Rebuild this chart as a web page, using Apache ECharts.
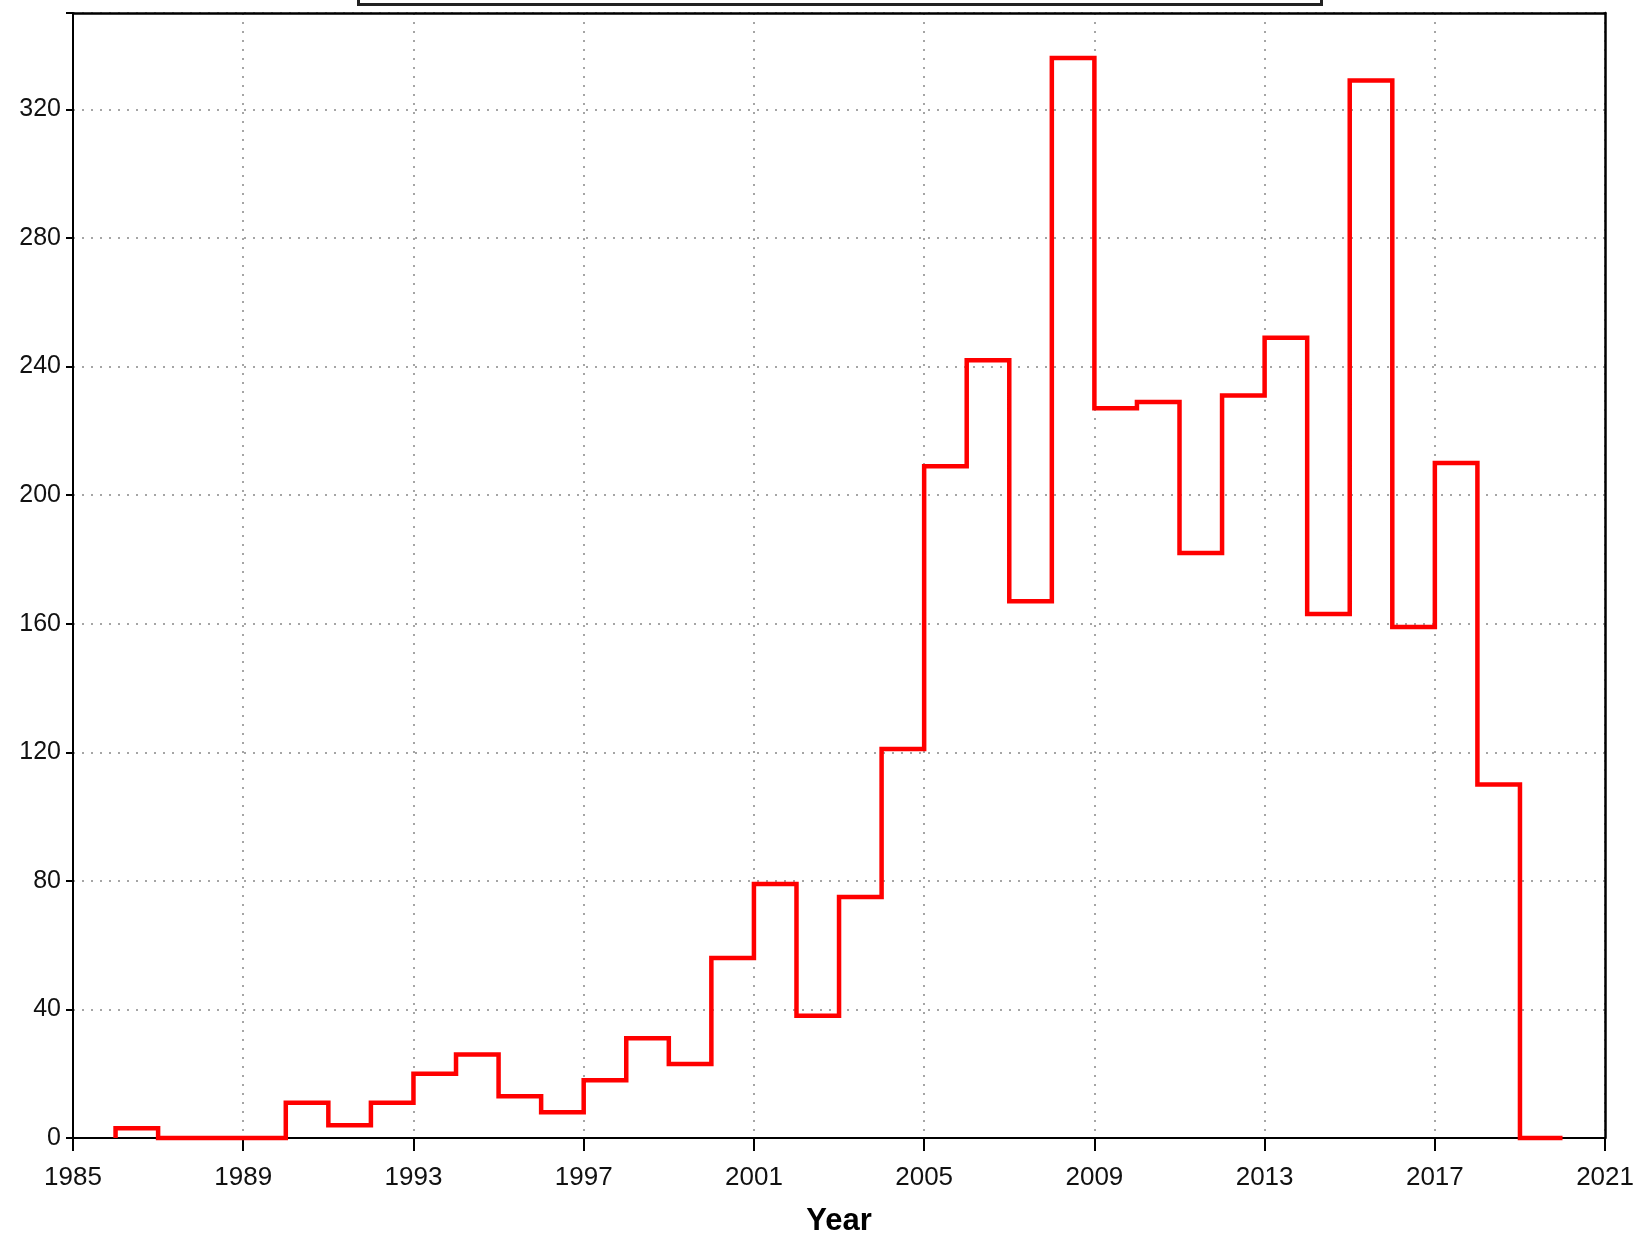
<!DOCTYPE html>
<html>
<head>
<meta charset="utf-8">
<script src="https://cdn.jsdelivr.net/npm/echarts@6/dist/echarts.min.js"></script>
<style>
html,body{margin:0;padding:0;background:#fff;}
#chart{width:1637px;height:1242px;}
</style>
</head>
<body>
<div id="chart"></div>
<script>
// Bin start years (each bin is one year wide)
const years = [1986,1987,1988,1989,1990,1991,1992,1993,1994,1995,1996,1997,1998,1999,2000,2001,2002,2003,2004,2005,2006,2007,2008,2009,2010,2011,2012,2013,2014,2015,2016,2017,2018,2019];
// Counts per year bin
const counts = [3,0,0,0,11,4,11,20,26,13,8,18,31,23,56,79,38,75,121,209,242,167,336,227,229,182,231,249,163,329,159,210,110,0];
const lastBinEnd = 2020;
const xTicks = [1985,1989,1993,1997,2001,2005,2009,2013,2017,2021];
const yTicks = [0,40,80,120,160,200,240,280,320];

// Build step-line points: rise at left edge of first bin, then step at each bin's right edge
const stepData = [[years[0], 0]];
years.forEach((y, i) => stepData.push([y, counts[i]]));
stepData.push([lastBinEnd, counts[counts.length - 1]]);

const chart = echarts.init(document.getElementById('chart'));
const FONT = '"Liberation Sans", Arial, sans-serif';
const xMin = xTicks[0], xMax = xTicks[xTicks.length - 1];
chart.setOption({
  animation: false,
  backgroundColor: '#ffffff',
  grid: {left: 73, right: 31, top: 13, bottom: 93, show: false},
  xAxis: [{
    type: 'value', min: xMin, max: xMax, interval: 4, position: 'bottom',
    name: 'Year', nameLocation: 'middle', nameGap: 68,
    nameTextStyle: {fontFamily: FONT, fontWeight: 'bold', fontSize: 31, color: '#000'},
    axisLine: {show: true, lineStyle: {color: '#000', width: 2}},
    axisTick: {show: true, length: 13, lineStyle: {color: '#000', width: 2}},
    axisLabel: {fontFamily: FONT, fontSize: 26, color: '#111', margin: 27, formatter: v => String(v)},
    splitLine: {show: true, lineStyle: {color: '#888', type: [2, 7], width: 1.5}},
    z: 3
  }, {
    type: 'value', min: xMin, max: xMax, interval: 4, position: 'top',
    axisLine: {show: true, onZero: false, lineStyle: {color: '#000', width: 2.5}},
    axisTick: {show: false}, axisLabel: {show: false}, splitLine: {show: false},
    z: 10
  }],
  yAxis: [{
    type: 'value', min: 0, max: 350, interval: 40, position: 'left',
    axisLine: {show: true, lineStyle: {color: '#000', width: 2}},
    axisTick: {show: true, length: 7, lineStyle: {color: '#000', width: 2}},
    axisLabel: {fontFamily: FONT, fontSize: 25, color: '#111', margin: 12,
      formatter: v => (yTicks.indexOf(v) >= 0 ? String(v) : '')},
    splitLine: {show: true, lineStyle: {color: '#888', type: [2, 7], width: 1.5}},
    z: 3
  }, {
    type: 'value', min: 0, max: 350, interval: 40, position: 'right',
    axisLine: {show: true, onZero: false, lineStyle: {color: '#000', width: 2.5}},
    axisTick: {show: false}, axisLabel: {show: false}, splitLine: {show: false},
    z: 10
  }],
  graphic: [{
    type: 'rect', left: 357, top: -20, z: 100,
    shape: {width: 963, height: 23},
    style: {fill: '#fff', stroke: '#222', lineWidth: 3}
  }],
  series: [{
    type: 'line', step: 'end', data: stepData, showSymbol: false, symbol: 'none',
    xAxisIndex: 0, yAxisIndex: 0,
    lineStyle: {color: '#ff0000', width: 4.5, join: 'miter', cap: 'butt'},
    clip: false, z: 5
  }]
});
</script>
</body>
</html>
